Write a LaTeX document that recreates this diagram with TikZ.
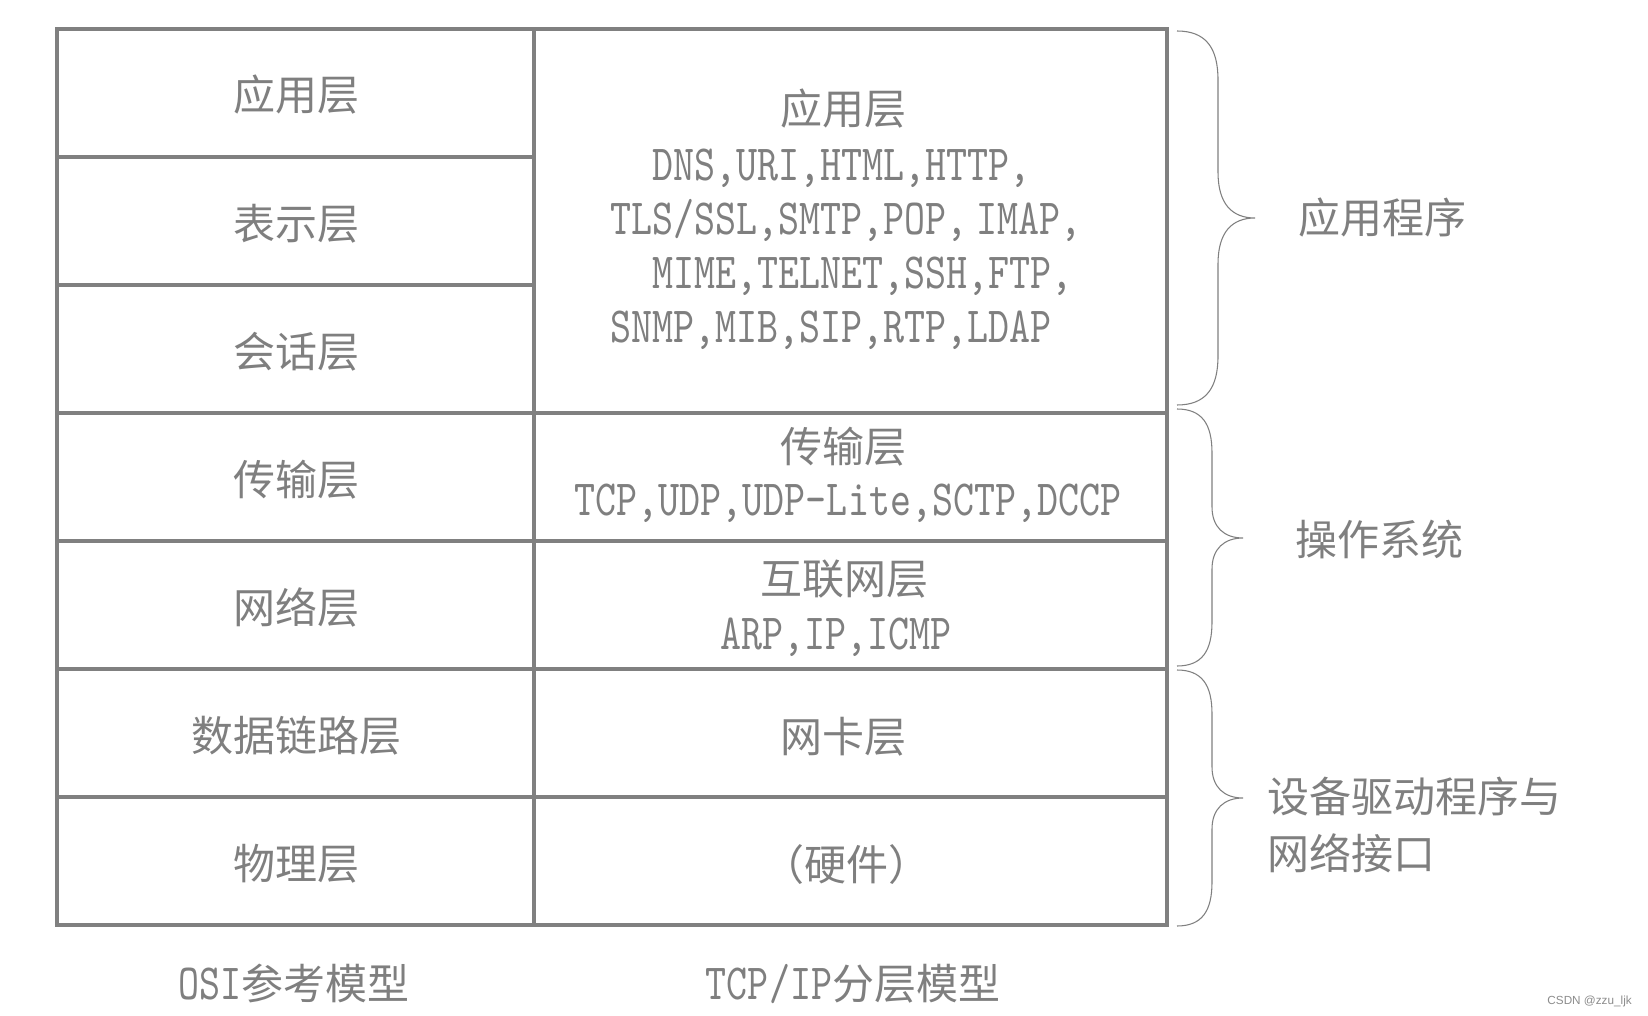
\documentclass[tikz,border=0pt]{standalone}
\usepackage{fontspec}
\newfontfamily\cjk{Noto Sans CJK SC}
\newfontfamily\lat[FakeStretch=0.79]{lmmono10-regular.otf}
\newfontfamily\wmfont{Liberation Sans}
\newcommand\latx[1]{{\fontsize{38}{42}\selectfont\lat #1}}
\definecolor{linegray}{HTML}{808080}
\definecolor{txtgray}{HTML}{7F7F7F}
\begin{document}
\begin{tikzpicture}[x=0.75pt,y=-0.75pt,
  grid/.style={draw=linegray,line width=3pt},
  brc/.style={draw=linegray,line width=0.8pt},
  zh/.style={inner sep=0pt,anchor=base,text=txtgray,font=\fontsize{31.5}{36}\selectfont\cjk},
  zhw/.style={zh,anchor=base west},
  en/.style={inner sep=0pt,anchor=base,text=txtgray,font=\fontsize{38}{42}\selectfont\lat},
  enw/.style={en,anchor=base west}]
\useasboundingbox (0,0) rectangle (1648,1016);
\fill[white] (0,0) rectangle (1648,1016);
% table
\draw[grid] (57,29) rectangle (1167,925);
\draw[grid] (534,29) -- (534,925);
\draw[grid] (57,157) -- (534,157);
\draw[grid] (57,285) -- (534,285);
\draw[grid] (57,413) -- (1167,413);
\draw[grid] (57,541) -- (1167,541);
\draw[grid] (57,669) -- (1167,669);
\draw[grid] (57,797) -- (1167,797);
% OSI column
\node[zh] (o7) at (296,111) {应用层};
\node[zh] (o6) at (296,239) {表示层};
\node[zh] (o5) at (296,367) {会话层};
\node[zh] (o4) at (296,495) {传输层};
\node[zh] (o3) at (296,623) {网络层};
\node[zh] (o2) at (296,751) {数据链路层};
\node[zh] (o1) at (296,879) {物理层};
% TCP/IP column
\node[zh] (t4) at (843,125) {应用层};
\node[enw] (t4a) at (652,181) {DNS,URI,HTML,HTTP,};
\node[enw] (t4b) at (610,235) {TLS/SSL,SMTP,POP,\hspace{7pt}IMAP,};
\node[enw] (t4c) at (652,288) {MIME,TELNET,SSH,FTP,};
\node[enw] (t4d) at (610,342) {SNMP,MIB,SIP,RTP,LDAP};
\node[zh] (t3) at (843,462) {传输层};
\node[en] (t3a) at (848,515) {TCP,UDP,UDP-Lite,SCTP,DCCP};
\node[zh] (t2) at (844,594) {互联网层};
\node[en] (t2a) at (836,649) {ARP,IP,ICMP};
\node[zh] (t1) at (843,752) {网卡层};
\node[zh] (t0) at (846,880) {（硬件）};
% braces
\draw[brc] (1177,31) .. controls (1206,31) and (1218,48) .. (1218,80)
  -- (1218,172) .. controls (1218,204) and (1232,218) .. (1255,218)
  .. controls (1232,218) and (1218,232) .. (1218,264)
  -- (1218,356) .. controls (1218,388) and (1206,405) .. (1177,405);
\draw[brc] (1177,409) .. controls (1202,409) and (1212,424) .. (1212,453)
  -- (1212,507) .. controls (1212,527) and (1224,538) .. (1243,538)
  .. controls (1224,538) and (1212,549) .. (1212,569)
  -- (1212,622) .. controls (1212,651) and (1202,666) .. (1177,666);
\draw[brc] (1177,670) .. controls (1202,670) and (1212,685) .. (1212,714)
  -- (1212,767) .. controls (1212,787) and (1224,798) .. (1243,798)
  .. controls (1224,798) and (1212,809) .. (1212,829)
  -- (1212,882) .. controls (1212,911) and (1202,926) .. (1177,926);
% brace labels
\node[zhw] (lapp) at (1298,234) {应用程序};
\node[zhw] (los) at (1295,555) {操作系统};
\node[zhw] (ldrv1) at (1267,812) {设备驱动程序与};
\node[zhw] (ldrv2) at (1267,869) {网络接口};
% captions
\node[zh] (cosi) at (294,999) {\latx{OSI}参考模型};
\node[zh] (ctcp) at (853,999) {\latx{TCP/IP}分层模型};
% watermark
\node[inner sep=0pt,anchor=base east,text=black!45,font=\fontsize{8.8}{10}\selectfont\wmfont] (wm) at (1632,1004) {CSDN @zzu\_ljk};
\end{tikzpicture}
\end{document}
